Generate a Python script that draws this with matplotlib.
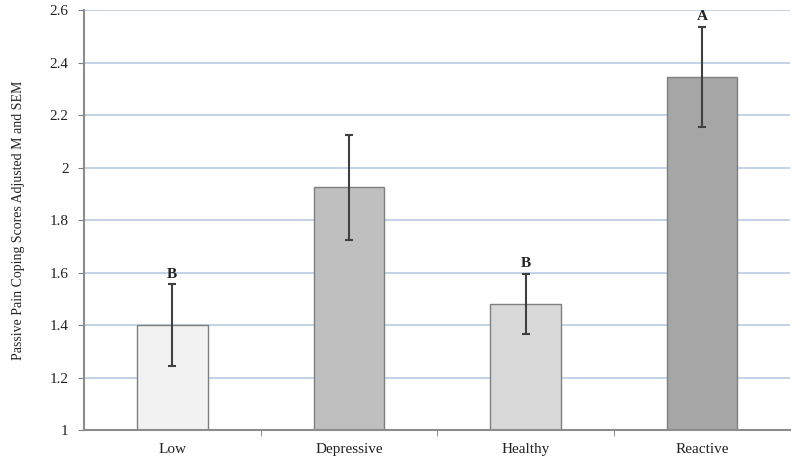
import numpy as np
import matplotlib
matplotlib.use('Agg')
import matplotlib.pyplot as plt

# data
groups = ['Low', 'Depressive', 'Healthy', 'Reactive']
means = [1.40, 1.925, 1.48, 2.345]
sem = [0.155, 0.20, 0.115, 0.19]
letters = ['B', '', 'B', 'A']
colors = ['#f2f2f2', '#bfbfbf', '#d9d9d9', '#a6a6a6']

plt.rcParams['font.family'] = ['Liberation Serif', 'DejaVu Serif']

fig = plt.figure(figsize=(8, 4.62), dpi=100)
ax = fig.add_axes([0.105, 0.069, 0.883, 0.909])

x = np.arange(len(groups))
ax.bar(x, [m - 1 for m in means], bottom=1, width=0.4, color=colors,
       edgecolor='#7f7f7f', linewidth=1.0, zorder=2)
ax.errorbar(x, means, yerr=sem, fmt='none', ecolor='#404040',
            elinewidth=1.5, capsize=3, capthick=1.5, zorder=3)

for i, lab in enumerate(letters):
    if lab:
        ax.text(x[i], means[i] + sem[i] + 0.015, lab, ha='center', va='bottom',
                fontsize=11, fontweight='bold', color='#222222', zorder=4)

ax.set_xlim(-0.5, len(groups) - 0.5)
ax.set_ylim(1, 2.6)
ax.set_yticks(np.arange(1, 2.61, 0.2))
ax.set_yticklabels(['1', '1.2', '1.4', '1.6', '1.8', '2', '2.2', '2.4', '2.6'])
ax.yaxis.grid(True, color='#b8cce4', linewidth=1.2, zorder=0)
ax.set_axisbelow(True)

ax.set_xticks(x)
ax.set_xticklabels(groups, fontsize=11, color='#222222')
ax.set_xticks(np.arange(0.5, len(groups) - 0.5, 1), minor=True)
ax.tick_params(axis='x', which='major', length=0, pad=9)
ax.tick_params(axis='x', which='minor', length=4, color='#7f7f7f', direction='out')
ax.tick_params(axis='y', length=4, color='#7f7f7f', labelsize=11, pad=7)
for t in ax.get_yticklabels():
    t.set_color('#222222')

for s in ['top', 'right']:
    ax.spines[s].set_visible(False)
ax.spines['left'].set_color('#8c8c8c')
ax.spines['bottom'].set_color('#8c8c8c')
ax.spines['left'].set_linewidth(1.5)
ax.spines['bottom'].set_linewidth(1.5)

ax.set_ylabel('Passive Pain Coping Scores Adjusted M and SEM', fontsize=10,
              color='#222222', labelpad=18)

fig.savefig('out.png', dpi=100)
